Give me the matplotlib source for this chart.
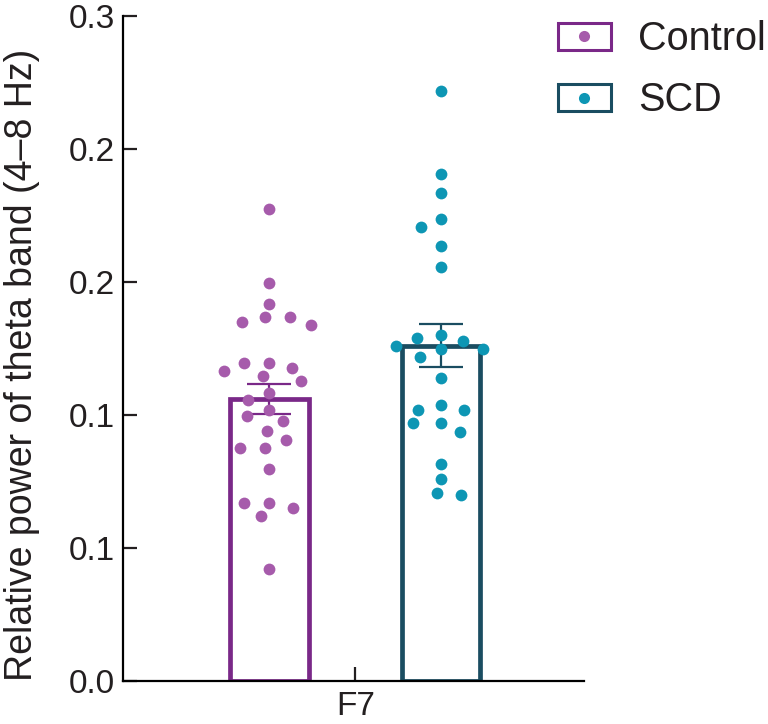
import numpy as np
import matplotlib
matplotlib.use('Agg')
import matplotlib.pyplot as plt
from matplotlib.patches import Patch
from matplotlib.lines import Line2D

plt.rcParams['font.family'] = ['Liberation Sans', 'DejaVu Sans']

groups = ['Control', 'SCD']
site = 'F7'
control = [0.1776, 0.1498, 0.1417, 0.1367, 0.1367, 0.1349, 0.1340, 0.1197, 0.1197, 0.1177,
           0.1167, 0.1148, 0.1129, 0.1082, 0.1056, 0.1019, 0.0996, 0.0977, 0.0939, 0.0906,
           0.0877, 0.0877, 0.0798, 0.0668, 0.0668, 0.0650, 0.0620, 0.0420]
scd = [0.2218, 0.1907, 0.1836, 0.1737, 0.1707, 0.1637, 0.1558, 0.1301, 0.1248, 0.1259,
       0.1288, 0.1219, 0.1248, 0.1278, 0.1138, 0.1019, 0.1019, 0.1038, 0.0969, 0.0969,
       0.0937, 0.0817, 0.0758, 0.0698, 0.0708]
yticks = [0.0, 0.05, 0.10, 0.15, 0.20, 0.25]
ytick_labels = ['0.0', '0.1', '0.1', '0.2', '0.2', '0.3']

edge_colors = ['#7a2888', '#1a4d61']
dot_colors = ['#a65bab', '#0d96b4']


def swarm(ypix, rx, ry):
    # greedy beeswarm in pixel space with an elliptical keep-out zone
    xs = np.zeros(len(ypix))
    placed = []

    def free(c, y):
        return all(((c - px) / rx) ** 2 + ((y - py) / ry) ** 2 >= 1 - 1e-6 for px, py in placed)

    for i in np.argsort(-ypix):
        y = ypix[i]
        cands = [0.0]
        for px, py in placed:
            dy = abs(py - y)
            if dy < ry:
                dx = rx * np.sqrt(1 - (dy / ry) ** 2)
                cands += [px - dx, px + dx]
        cands.sort(key=abs)
        for c in cands:
            if free(c, y):
                xs[i] = c
                break
        placed.append((xs[i], y))
    return xs


fig = plt.figure(figsize=(7.68, 7.24), dpi=100)
ax = fig.add_axes([123 / 768, 43 / 724, 461 / 768, 665 / 724])
ax.set_xlim(-0.854, 1.834)
ax.set_ylim(0, 0.25)

pos = [0, 1]
width = 0.458
for i, vals in enumerate([control, scd]):
    vals = np.array(vals)
    mean = vals.mean()
    sem = vals.std(ddof=1) / np.sqrt(len(vals))
    ax.bar(pos[i], mean, width=width, facecolor='white', edgecolor=edge_colors[i],
           linewidth=3.4, zorder=1, joinstyle='miter')
    ax.errorbar(pos[i], mean, yerr=sem, color=edge_colors[i], elinewidth=1.6,
                capsize=16, capthick=1.6, zorder=2)

fig.canvas.draw()
for i, vals in enumerate([control, scd]):
    vals = np.array(vals)
    pts = ax.transData.transform(np.column_stack([np.full(len(vals), pos[i]), vals]))
    offs = swarm(pts[:, 1], 25.0, 13.5)
    pts[:, 0] += offs
    xy = ax.transData.inverted().transform(pts)
    ax.scatter(xy[:, 0], xy[:, 1], s=72, color=dot_colors[i], linewidths=0, zorder=3,
               clip_on=False)

for s in ['top', 'right']:
    ax.spines[s].set_visible(False)
for s in ['left', 'bottom']:
    ax.spines[s].set_linewidth(1.6)
    ax.spines[s].set_zorder(4)

ax.set_yticks(yticks)
ax.set_yticklabels(ytick_labels)
ax.set_xticks([0.5])
ax.set_xticklabels([site])
ax.tick_params(axis='both', direction='in', length=10, width=1.6, labelsize=24, colors='#231f20')
ax.tick_params(axis='y', pad=6)
ax.tick_params(axis='x', pad=7)

ax.set_ylabel('Relative power of theta band (4–8 Hz)', fontsize=27, color='#231f20')
ax.yaxis.set_label_coords(-0.18, 0.475)

handles = []
for i in range(2):
    box = Patch(facecolor='white', edgecolor=edge_colors[i], linewidth=2.2)
    dot = Line2D([], [], marker='o', linestyle='none', markersize=8,
                 markerfacecolor=dot_colors[i], markeredgewidth=0)
    handles.append((box, dot))
leg = fig.legend(handles, groups, loc='upper left', bbox_to_anchor=(558 / 768, 1 - 20 / 724),
                 frameon=False, fontsize=28.5, handlelength=1.33, handleheight=0.68,
                 handletextpad=0.7, labelspacing=0.59, borderpad=0, borderaxespad=0)
for t in leg.get_texts():
    t.set_color('#231f20')

fig.savefig('out.png', dpi=100)
